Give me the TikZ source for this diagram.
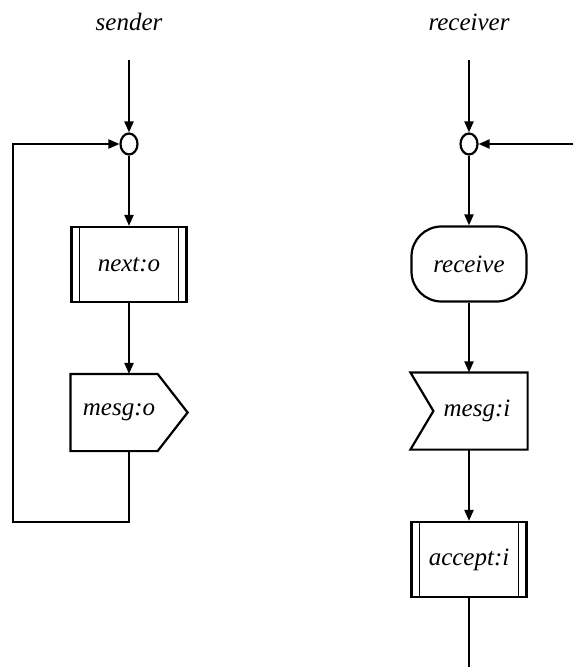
\documentclass[tikz,border=0pt]{standalone}
\usepackage{fontspec}
\setmainfont{Liberation Serif}
\usetikzlibrary{arrows.meta,shapes.geometric}
\begin{document}
\begin{tikzpicture}[x=0.5pt,y=-0.5pt,line width=1.1pt,
  lbl/.style={font=\itshape\fontsize{12.5}{14}\selectfont},
  box/.style={rectangle,minimum width=57.5pt,minimum height=37.5pt,inner sep=0pt,
    font=\itshape\fontsize{12.5}{14}\selectfont},
  procbox/.style={box,draw,path picture={
    \draw[line width=0.7pt] ([xshift=4pt]path picture bounding box.north west) -- ([xshift=4pt]path picture bounding box.south west);
    \draw[line width=0.7pt] ([xshift=-4pt]path picture bounding box.north east) -- ([xshift=-4pt]path picture bounding box.south east);}},
  roundbox/.style={box,draw,rounded corners=15pt},
  junct/.style={ellipse,draw,minimum width=8.5pt,minimum height=10.5pt,inner sep=0pt},
  arr/.style={-{Triangle[length=5.5pt,width=4.5pt]}}]
\useasboundingbox (0,0) rectangle (573,667);

% ---- sender ----
\node[lbl] (snd) at (129,22) {sender};
\coordinate (sin) at (129,60);
\node[junct] (j1) at (129,144) {};
\node[procbox] (next) at (129,264.5) {next:o};
\node[box] (mo) at (129,412.5) {\hspace*{-10pt}mesg:o};
\draw (mo.north west) -- ([xshift=-15pt]mo.north east) -- (mo.east)
      -- ([xshift=-15pt]mo.south east) -- (mo.south west) -- cycle;
\coordinate (lb) at (13,522);

\draw[arr] (sin) -- (j1.north);
\draw[arr] (j1.south) -- (next.north);
\draw[arr] (next.south) -- (mo.north);
\draw[arr] (mo.south) |- (lb) |- (j1.west);

% ---- receiver ----
\node[lbl] (rcv) at (469,22) {receiver};
\coordinate (rin) at (469,60);
\coordinate (rfb) at (573,144);
\node[junct] (j2) at (469,144) {};
\node[roundbox] (recv) at (469,264) {receive};
\node[box] (mi) at (469,411) {\hspace*{8pt}mesg:i};
\draw (mi.north west) -- (mi.north east) -- (mi.south east) -- (mi.south west)
      -- ([xshift=11.5pt]mi.west) -- cycle;
\node[procbox] (acc) at (469,559.5) {accept:i};
\coordinate (rout) at (469,667);

\draw[arr] (rin) -- (j2.north);
\draw[arr] (rfb) -- (j2.east);
\draw[arr] (j2.south) -- (recv.north);
\draw[arr] (recv.south) -- (mi.north);
\draw[arr] (mi.south) -- (acc.north);
\draw (acc.south) -- (rout);
\end{tikzpicture}
\end{document}
